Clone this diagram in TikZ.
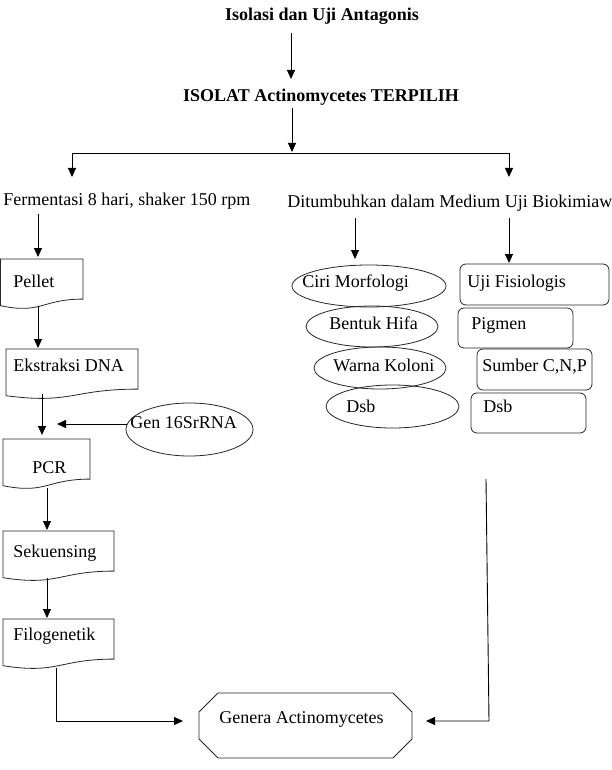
\documentclass[tikz,border=0pt]{standalone}
\usepackage{fontspec}
\setmainfont{Liberation Serif}
\usetikzlibrary{arrows.meta,shapes.geometric}
\newcommand\mydocshape[4]{%
  \pgfmathsetmacro\dsxm{(#1+#2)/2}%
  \pgfmathsetmacro\dsya{#3+40.1}%
  \pgfmathsetmacro\dsyb{#3+55.4}%
  \pgfmathsetmacro\dsyc{#3+46.7}%
  \draw[boxline] (#1,#3) coordinate (#4) -- (#2,#3) -- (#2,\dsya) .. controls (\dsxm,\dsya) and (\dsxm,\dsyb) .. (#1,\dsyc) -- cycle;}
\begin{document}
\begin{tikzpicture}[x=1pt,y=-1pt,
  line width=0.9pt,
  boxline/.style={line width=0.8pt, draw=black!85},
  arr/.style={-{Triangle[length=9pt,width=8pt]}},
  txt/.style={inner sep=0pt, anchor=west, text height=13pt, text depth=4pt, font=\fontsize{18}{21}\selectfont},
  ctxt/.style={inner sep=0pt, text height=13pt, text depth=4pt, font=\fontsize{18}{21}\selectfont},
  btxt/.style={ctxt, font=\fontsize{18}{21}\selectfont\bfseries},
  ell/.style={ellipse, draw=black!85, line width=0.8pt, inner sep=0pt},
  rbox/.style={draw=black!85, line width=0.8pt, rounded corners=6pt}]
\useasboundingbox (0,0) rectangle (612,770);

% titles
\node[btxt] (title) at (322,16) {Isolasi dan Uji Antagonis};
\node[btxt] (isolat) at (321,97) {ISOLAT Actinomycetes TERPILIH};
\coordinate (a1s) at (291,33); \coordinate (a1e) at (291,79);
\draw[arr] (a1s) -- (a1e);
\coordinate (a2s) at (292,108); \coordinate (a2e) at (292,152);
\draw[arr] (a2s) -- (a2e);

% split
\coordinate (splitL) at (72,153); \coordinate (splitR) at (509,153);
\coordinate (splitLe) at (72,177); \coordinate (splitRe) at (509,177);
\draw (splitL) -- (splitR);
\draw[arr] (splitL) -- (splitLe);
\draw[arr] (splitR) -- (splitRe);

\node[txt] (ferm) at (3,201) {Fermentasi 8 hari, shaker 150 rpm};
\node[txt] (ditum) at (287,203) {Ditumbuhkan dalam Medium Uji Biokimiaw};

% left column
\coordinate (f1) at (38,214); \coordinate (f2) at (38,257);
\draw[arr] (f1) -- (f2);
\mydocshape{0.5}{83}{259}{pelletbox}
\node[txt] (pellet) at (13,283) {Pellet};
\coordinate (p1) at (38,306); \coordinate (p2) at (38,348);
\draw[arr] (p1) -- (p2);
\mydocshape{6}{138}{349}{ekstbox}
\node[txt] (ekst) at (13,367) {Ekstraksi DNA};
\coordinate (e1) at (42,394); \coordinate (e2) at (42,435);
\draw[arr] (e1) -- (e2);
\node[ell, minimum width=127pt, minimum height=53pt] (gen) at (189.5,429.5) {};
\node[txt] (gentxt) at (130,424) {Gen 16SrRNA};
\coordinate (g1) at (126.5,424); \coordinate (g2) at (57,424);
\draw[arr] (g1) -- (g2);
\mydocshape{3}{90}{439}{pcrbox}
\node[txt] (pcr) at (32,469) {PCR};
\coordinate (c1) at (47,488); \coordinate (c2) at (47,530);
\draw[arr] (c1) -- (c2);
\mydocshape{3}{114}{531}{sekbox}
\node[txt] (sek) at (13,553) {Sekuensing};
\coordinate (s1) at (47,578); \coordinate (s2) at (47,618);
\draw[arr] (s1) -- (s2);
\mydocshape{3}{114}{619}{filbox}
\node[txt] (fil) at (13,636) {Filogenetik};

% middle column
\coordinate (m1) at (355,218); \coordinate (m2) at (355,259);
\draw[arr] (m1) -- (m2);
\node[ell, minimum width=154pt, minimum height=42pt] (ciri) at (369,286) {};
\node[txt] at (302,283) (ciritxt) {Ciri Morfologi};
\node[ell, minimum width=132pt, minimum height=41pt] (bentuk) at (372,326.5) {};
\node[txt] at (329,325) (bentuktxt) {Bentuk Hifa};
\node[ell, minimum width=132pt, minimum height=42pt] (warna) at (380,368) {};
\node[txt] at (333,367) (warnatxt) {Warna Koloni};
\node[ell, minimum width=133pt, minimum height=43pt] (dsb1) at (392.5,406.5) {};
\node[txt] at (346,408) (dsb1txt) {Dsb};

% right column
\coordinate (r1) at (509,218); \coordinate (r2) at (509,263);
\draw[arr] (r1) -- (r2);
\draw[rbox] (460,264) rectangle (609,305);
\node[txt] at (467,283) (uji) {Uji Fisiologis};
\draw[rbox] (458,308) rectangle (573,348);
\node[txt] at (471,325) (pig) {Pigmen};
\draw[rbox] (477,349) rectangle (592,390);
\node[txt] at (482,367) (sum) {Sumber C,N,P};
\draw[rbox] (471,393) rectangle (586,433);
\node[txt] at (483,408) (dsb2) {Dsb};

% result
\draw[boxline] (218,693) -- (393,693) -- (412,712) -- (412,739) -- (393,758) -- (218,758) -- (199,739) -- (199,712) -- cycle;
\node[ctxt] (genera) at (301.5,719) {Genera Actinomycetes};
\coordinate (l1) at (56,668); \coordinate (l2) at (56,721); \coordinate (l3) at (183,721);
\draw[arr] (l1) -- (l2) -- (l3);
\coordinate (k1) at (486,479); \coordinate (k2) at (489,721); \coordinate (k3) at (426,721);
\draw[arr] (k1) -- (k2) -- (k3);
\end{tikzpicture}
\end{document}
